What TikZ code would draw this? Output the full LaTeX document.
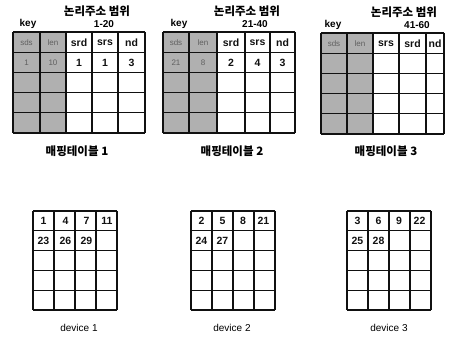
\documentclass[tikz,border=0pt]{standalone}
\usepackage{fontspec}
\setmainfont{Liberation Sans}
\newfontfamily\krfont{Noto Sans CJK KR}
\usetikzlibrary{positioning}
\definecolor{Shade}{HTML}{B0B0B0}
\definecolor{Faint}{HTML}{606060}
\definecolor{Ink}{HTML}{111111}
\tikzset{
  gridline/.style={draw=Ink,line width=1.1pt},
  celltext/.style={font=\bfseries\fontsize{10.5}{11}\selectfont,text=Ink,inner sep=0pt},
  keytext/.style={font=\fontsize{8}{8}\selectfont,text=Faint,inner sep=0pt},
  headtext/.style={font=\krfont\bfseries\fontsize{11.5}{12}\selectfont,inner sep=0pt},
  rangetext/.style={font=\bfseries\fontsize{10}{10}\selectfont,inner sep=0pt},
  devtext/.style={font=\fontsize{10}{10}\selectfont,inner sep=0pt}
}
\begin{document}
\begin{tikzpicture}[x=1pt,y=-1pt]
  \useasboundingbox[fill=white] (0,0) rectangle (456,337);
  % mapping table 1
  \fill[Shade] (13,32) rectangle (66,133);
  \foreach \y in {32,52.2,72.4,92.6,112.8,133} \draw[gridline] (13,\y) -- (145,\y);
  \foreach \x in {13,40,66,92,118,145} \draw[gridline] (\x,32) -- (\x,133);
  \node[rangetext] (keyA) at (28,24) {key};
  \node[headtext] (headA) at (97,11) {논리주소 범위};
  \node[rangetext] (rangeA) at (104,24) {1-20};
  \foreach \t/\x [count=\i] in {sds/26.5,len/53}{
    \node[keytext] (hA\i) at (\x,42.5) {\t};}
  \foreach \t/\x [count=\i from 3] in {srd/79,srs/105,nd/131.5}{
    \node[celltext] (hA\i) at (\x,42.5) {\t};}
  \node[keytext] (dA1) at (26.5,62.5) {1};
  \node[keytext] (dA2) at (53,62.5) {10};
  \foreach \t/\x [count=\i from 3] in {1/79,1/105,3/131.5}{
    \node[celltext] (dA\i) at (\x,62.5) {\t};}
  \node[headtext] (nameA) at (77,151) {매핑테이블 1};
  % mapping table 2
  \fill[Shade] (163,32) rectangle (217,133);
  \foreach \y in {32,52.2,72.4,92.6,112.8,133} \draw[gridline] (163,\y) -- (295,\y);
  \foreach \x in {163,189,217,245,270,295} \draw[gridline] (\x,32) -- (\x,133);
  \node[rangetext] (keyB) at (179,24) {key};
  \node[headtext] (headB) at (247,11) {논리주소 범위};
  \node[rangetext] (rangeB) at (255,24) {21-40};
  \foreach \t/\x [count=\i] in {sds/176,len/203}{
    \node[keytext] (hB\i) at (\x,42.5) {\t};}
  \foreach \t/\x [count=\i from 3] in {srd/231,srs/257.5,nd/282.5}{
    \node[celltext] (hB\i) at (\x,42.5) {\t};}
  \node[keytext] (dB1) at (176,62.5) {21};
  \node[keytext] (dB2) at (203,62.5) {8};
  \foreach \t/\x [count=\i from 3] in {2/231,4/257.5,3/282.5}{
    \node[celltext] (dB\i) at (\x,62.5) {\t};}
  \node[headtext] (nameB) at (232,151) {매핑테이블 2};
  % mapping table 3
  \fill[Shade] (321,33) rectangle (373,134);
  \foreach \y in {33,53.2,73.4,93.6,113.8,134} \draw[gridline] (321,\y) -- (444,\y);
  \foreach \x in {321,347,373,399,426,444} \draw[gridline] (\x,33) -- (\x,134);
  \node[rangetext] (keyC) at (333,25) {key};
  \node[headtext] (headC) at (404,12) {논리주소 범위};
  \node[rangetext] (rangeC) at (417,25) {41-60};
  \foreach \t/\x [count=\i] in {sds/334,len/360}{
    \node[keytext] (hC\i) at (\x,43.5) {\t};}
  \foreach \t/\x [count=\i from 3] in {srs/386,srd/412.5,nd/435}{
    \node[celltext] (hC\i) at (\x,43.5) {\t};}
  \node[headtext] (nameC) at (386,151) {매핑테이블 3};
  % devices
  \foreach \dx/\nm in {33/A,191/B,347/C}{
    \foreach \y in {211,230.8,250.6,270.4,290.2,310} \draw[gridline] (\dx,\y) -- (\dx+84,\y);
    \foreach \c in {0,21,42,63,84} \draw[gridline] (\dx+\c,211) -- (\dx+\c,310);}
  \foreach \t/\x [count=\i] in {1/43.5,4/65.5,7/86.5,11/107,23/43.5,26/65.5,29/86.5}{
    \pgfmathsetmacro{\yy}{\i<5 ? 221 : 240.5}
    \node[celltext] (devA\i) at (\x,\yy) {\t};}
  \foreach \t/\x [count=\i] in {2/201.5,5/222.5,8/243,21/263.5,24/201.5,27/222.5}{
    \pgfmathsetmacro{\yy}{\i<5 ? 221 : 240.5}
    \node[celltext] (devB\i) at (\x,\yy) {\t};}
  \foreach \t/\x [count=\i] in {3/357.5,6/378.5,9/399,22/419.5,25/357.5,28/378.5}{
    \pgfmathsetmacro{\yy}{\i<5 ? 221 : 240.5}
    \node[celltext] (devC\i) at (\x,\yy) {\t};}
  \node[devtext] (devnameA) at (79,328) {device 1};
  \node[devtext] (devnameB) at (232,328) {device 2};
  \node[devtext] (devnameC) at (389,328) {device 3};
\end{tikzpicture}
\end{document}
